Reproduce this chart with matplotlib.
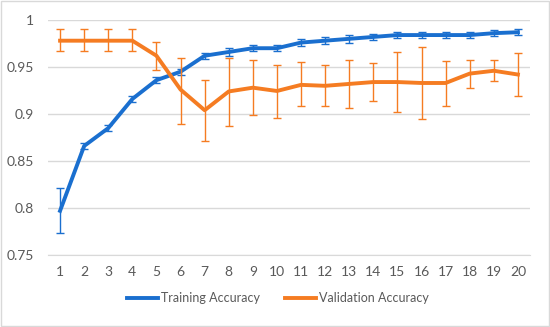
import matplotlib
matplotlib.use("Agg")
import matplotlib.pyplot as plt
from matplotlib.lines import Line2D
import numpy as np

epochs = list(range(1, 21))
train_acc = [0.797, 0.866, 0.885, 0.916, 0.936, 0.945, 0.962, 0.966, 0.970, 0.970,
             0.976, 0.978, 0.980, 0.982, 0.984, 0.984, 0.984, 0.984, 0.986, 0.987]
train_err = [0.024, 0.003, 0.003, 0.003, 0.003, 0.003, 0.003, 0.004, 0.003, 0.003,
             0.004, 0.004, 0.004, 0.003, 0.003, 0.003, 0.003, 0.003, 0.003, 0.003]
val_acc = [0.978, 0.978, 0.978, 0.978, 0.962, 0.926, 0.904, 0.924, 0.928, 0.9245,
           0.931, 0.930, 0.932, 0.934, 0.934, 0.933, 0.933, 0.943, 0.946, 0.942]
val_hi = [0.990, 0.990, 0.990, 0.990, 0.977, 0.960, 0.936, 0.960, 0.957, 0.952,
          0.955, 0.952, 0.957, 0.954, 0.966, 0.971, 0.956, 0.957, 0.957, 0.965]
val_lo = [0.967, 0.967, 0.967, 0.967, 0.947, 0.889, 0.871, 0.887, 0.899, 0.896,
          0.908, 0.909, 0.906, 0.9135, 0.902, 0.895, 0.909, 0.928, 0.935, 0.919]
yticks = [0.75, 0.8, 0.85, 0.9, 0.95, 1.0]
ytick_labels = ["0.75", "0.8", "0.85", "0.9", "0.95", "1"]
series_names = ["Training Accuracy", "Validation Accuracy"]

blue = "#1a6fcf"
orange = "#f57c22"

plt.rcParams['font.family'] = ['Lato', 'DejaVu Sans']

fig = plt.figure(figsize=(5.5, 3.27), dpi=100)
ax = fig.add_axes([0.0873, 0.2202, 0.8763, 0.7186])

ax.errorbar(epochs, train_acc, yerr=train_err, color=blue, lw=2.8,
            ecolor=blue, elinewidth=1.0, capsize=3, capthick=1.0, zorder=3)
val_err = [np.array(val_acc) - np.array(val_lo), np.array(val_hi) - np.array(val_acc)]
ax.errorbar(epochs, val_acc, yerr=val_err, color=orange, lw=2.8,
            ecolor=orange, elinewidth=1.0, capsize=3, capthick=1.0, zorder=4)

ax.set_xlim(0.5, 20.5)
ax.set_ylim(0.75, 1.0)
ax.set_xticks(epochs)
ax.set_xticklabels([str(e) for e in epochs])
ax.set_yticks(yticks)
ax.set_yticklabels(ytick_labels)
ax.grid(axis='y', color="#d9d9d9", lw=1.0)
ax.set_axisbelow(True)
for s in ax.spines.values():
    s.set_visible(False)
ax.spines['bottom'].set_visible(True)
ax.spines['bottom'].set_color("#d9d9d9")
ax.tick_params(length=0, labelsize=10, colors="#595959", pad=8)
ax.tick_params(axis='y', pad=10)

handles = [Line2D([], [], color=blue, lw=2.8), Line2D([], [], color=orange, lw=2.8)]
leg = fig.legend(handles, series_names, loc='lower center', bbox_to_anchor=(0.505, 0.035), ncol=2,
                 frameon=False, fontsize=9, handlelength=2.5,
                 handletextpad=0.2, columnspacing=2.0)
for t in leg.get_texts():
    t.set_color("#595959")

fig.patches.append(plt.Rectangle((0.002, 0.003), 0.996, 0.994, transform=fig.transFigure,
                                 fill=False, edgecolor="#d9d9d9", lw=1))
fig.savefig("out.png", dpi=100, facecolor="white")
